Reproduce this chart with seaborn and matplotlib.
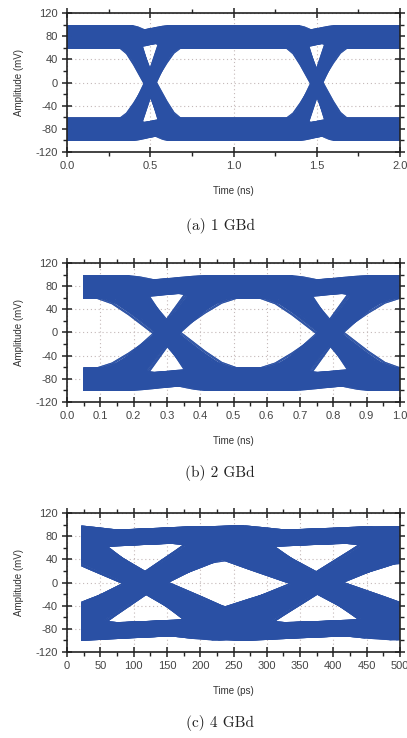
import itertools

import numpy as np
import pandas as pd
import matplotlib
matplotlib.use("Agg")
import matplotlib.pyplot as plt
import seaborn as sns
from matplotlib.ticker import MultipleLocator, FormatStrFormatter

# ---------------------------------------------------------------------------
# values
# ---------------------------------------------------------------------------
BIT_LEVELS = [-80, 80]                     # mV, low / high rail
# rail spread (mV) - the rails are ~40 mV thick bands
LEVEL_OFFSETS = [-20, -18, -15, -12, -10, -7, -5, -3, -1, 1, 3, 6, 8, 11, 13, 16, 18]

# transition shape: fraction of the step done at normalised time u
SHAPE_U = [-1.0, -0.75, -0.5, -0.25, 0.0, 0.25, 0.5, 0.75, 1.0]
SHAPE_ROUND = [0.0, 0.07, 0.2, 0.35, 0.5, 0.65, 0.8, 0.93, 1.0]
SHAPE_LINEAR = [0.0, 0.12, 0.25, 0.375, 0.5, 0.625, 0.75, 0.88, 1.0]

# (a) 1 GBd, time in ns
A_SPAN = [0.0, 2.0]
A_CROSS = [0.5, 1.5]
A_HALF = [[0.12, 0.17], [0.12, 0.17]]
A_JITTER = [-0.015, 0.0, 0.015]

# (b) 2 GBd, time in ns
B_SPAN = [0.05, 1.0]
B_CROSS = [0.30, 0.79]
B_HALF = [[0.13, 0.20], [0.13, 0.20]]
B_JITTER = [-0.015, 0.0, 0.015]

# (c) 4 GBd, time in ps
C_SPAN = [22, 500]
C_CROSS = [118, 375, 632]
C_HALF = [[110, 150], [120, 185], [120, 185]]
C_JITTER = [-10, 0, 10]

BLUE = "#2a50a4"


def build_traces(span, cross, halfs, jitter, shape):
    """Long-form table of eye traces: every bit pattern x rail offset x jitter."""
    frames = []
    n_off = len(LEVEL_OFFSETS)
    n_w = len(halfs[0])
    tid = 0
    for bits in itertools.product([0, 1], repeat=len(cross) + 1):
        for k in range(n_off):
            levels = [BIT_LEVELS[b] + LEVEL_OFFSETS[(k + 5 * i) % n_off]
                      for i, b in enumerate(bits)]
            for jj in range(len(jitter)):
                for w in range(n_w):
                    # a slow edge tends to be followed by a fast one
                    widths = [halfs[i][w if i % 2 == 0 else n_w - 1 - w]
                              for i in range(len(cross))]
                    shifts = [c + jitter[(jj + i) % len(jitter)]
                              for i, c in enumerate(cross)]
                    knots = [span[0], span[1]]
                    for cj, wd in zip(shifts, widths):
                        knots += [cj + u * wd for u in SHAPE_U]
                    t = np.array(sorted(x for x in set(knots) if span[0] <= x <= span[1]))
                    v = np.full(len(t), float(levels[0]))
                    for i, (cj, wd) in enumerate(zip(shifts, widths)):
                        frac = np.interp((t - cj) / wd, SHAPE_U, shape)
                        v += (levels[i + 1] - levels[i]) * frac
                    frames.append(pd.DataFrame({"t": t, "v": v, "trace": tid}))
                    tid += 1
    return pd.concat(frames, ignore_index=True)


sns.set_theme(style="ticks")
plt.rcParams["font.family"] = ["Liberation Sans", "DejaVu Sans"]
plt.rcParams["axes.unicode_minus"] = False

fig = plt.figure(figsize=(4.07, 7.38), dpi=100)

panels = [
    (A_SPAN, A_CROSS, A_HALF, A_JITTER, SHAPE_ROUND, [0, 2.0], 0.5, 0.25, "%.1f",
     "Time (ns)", 0.794, "(a) 1 GBd", 1 - 226 / 738),
    (B_SPAN, B_CROSS, B_HALF, B_JITTER, SHAPE_ROUND, [0, 1.0], 0.1, 0.05, "%.1f",
     "Time (ns)", 0.4553, "(b) 2 GBd", 1 - 473 / 738),
    (C_SPAN, C_CROSS, C_HALF, C_JITTER, SHAPE_LINEAR, [0, 500], 50, 25, "%d",
     "Time (ps)", 0.1165, "(c) 4 GBd", 1 - 723 / 738),
]

for (span, cross, halfs, jitter, shape, xlim, xmaj, xmin, xfmt,
     xlabel, bottom, caption, cap_y) in panels:
    ax = fig.add_axes([67 / 407, bottom, 333 / 407, 139 / 738])
    traces = build_traces(span, cross, halfs, jitter, shape)
    sns.lineplot(data=traces, x="t", y="v", units="trace", estimator=None,
                 sort=False, color=BLUE, lw=0.8, alpha=0.85, legend=False, ax=ax)

    ax.set_xlim(*xlim)
    ax.set_ylim(-120, 120)
    ax.xaxis.set_major_locator(MultipleLocator(xmaj))
    ax.xaxis.set_minor_locator(MultipleLocator(xmin))
    ax.xaxis.set_major_formatter(FormatStrFormatter(xfmt))
    ax.yaxis.set_major_locator(MultipleLocator(40))
    ax.yaxis.set_minor_locator(MultipleLocator(20))
    ax.grid(True, which="major", linestyle=(0, (1, 2.5)), color="#c4b8b8", lw=0.8)
    ax.set_axisbelow(True)

    ax.tick_params(which="major", direction="inout", length=7, width=1.1,
                   top=True, right=True, labelsize=8, colors="#222222",
                   labelcolor="#444444", pad=3)
    ax.tick_params(which="minor", direction="out", length=3, width=1.0,
                   top=True, right=True, colors="#222222")
    for sp in ax.spines.values():
        sp.set_linewidth(1.2)
        sp.set_color("#222222")

    ax.set_xlabel(xlabel, fontsize=7, color="#333333", labelpad=11)
    ax.set_ylabel("Amplitude (mV)", fontsize=7, color="#333333", labelpad=8)

    fig.text(220 / 407, cap_y, caption, family="cmr10", fontsize=11,
             ha="center", va="center", color="#222222")

fig.savefig("out.png", dpi=100)
